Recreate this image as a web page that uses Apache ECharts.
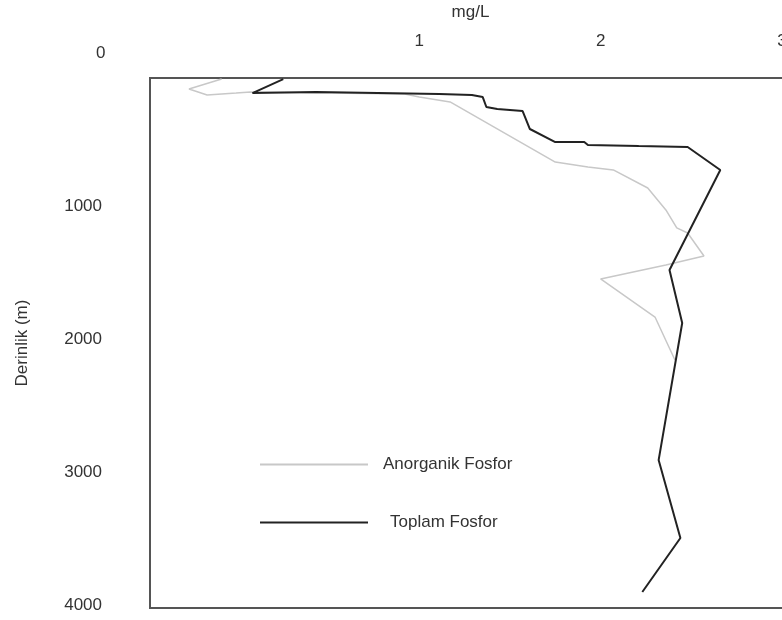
<!DOCTYPE html>
<html>
<head>
<meta charset="utf-8">
<script src="https://cdn.jsdelivr.net/npm/echarts@6/dist/echarts.min.js"></script>
<style>html,body{margin:0;padding:0;background:#fff;}#c{width:782px;height:620px;}</style>
</head>
<body>
<div id="c"></div>
<script>
// Series data: [value mg/L, depth m]
const anorganikFosfor = [
  [-0.09, 48], [-0.27, 123], [-0.17, 168], [-0.01, 153], [0.07, 145], [0.92, 160],
  [1.00, 183], [1.17, 220], [1.75, 671], [1.93, 708], [2.07, 730], [2.26, 866],
  [2.36, 1031], [2.42, 1166], [2.48, 1204], [2.57, 1377], [2.36, 1444],
  [2.00, 1549], [2.30, 1835], [2.41, 2158]
];
const toplamFosfor = [
  [0.25, 48], [0.08, 153], [0.43, 145], [0.44, 160], [1.11, 160], [1.29, 168],
  [1.35, 183], [1.37, 258], [1.43, 273], [1.57, 288], [1.61, 423], [1.75, 521],
  [1.91, 521], [1.93, 543], [2.21, 551], [2.48, 558], [2.66, 731], [2.38, 1482],
  [2.45, 1880], [2.32, 2909], [2.44, 3494], [2.23, 3900]
];
const xTickLabels = [1, 2, 3];
const yTickLabels = [1000, 2000, 3000, 4000];
const seriesNames = ['Anorganik Fosfor', 'Toplam Fosfor'];

const font = '"Liberation Sans", Arial, sans-serif';
const fs = 17;
const chart = echarts.init(document.getElementById('c'));
chart.setOption({
  animation: false,
  backgroundColor: '#fff',
  textStyle: { fontFamily: font },
  grid: { left: 150, top: 78, width: 641, height: 530, show: true, borderColor: '#555', borderWidth: 2,
          backgroundColor: 'transparent', containLabel: false, outerBoundsMode: 'none' },
  xAxis: {
    type: 'value', position: 'top', min: -0.485, max: 3.05,
    name: 'mg/L', nameLocation: 'middle', nameGap: 57,
    nameTextStyle: { color: '#333', fontSize: fs, fontFamily: font },
    axisLine: { show: false }, axisTick: { show: false }, splitLine: { show: false },
    axisLabel: { customValues: xTickLabels, margin: 28, color: '#333', fontSize: fs, fontFamily: font }
  },
  yAxis: {
    type: 'value', inverse: true, min: 40, max: 4020,
    name: 'Derinlik (m)', nameLocation: 'middle', nameGap: 119,
    nameTextStyle: { color: '#333', fontSize: fs, fontFamily: font },
    axisLine: { show: false }, axisTick: { show: false }, splitLine: { show: false },
    axisLabel: { customValues: yTickLabels, margin: 48, color: '#333', fontSize: fs, fontFamily: font,
                 formatter: function (v) { return String(v); } }
  },
  legend: {
    orient: 'vertical', left: 255, top: 451, icon: 'rect', itemWidth: 108, itemHeight: 2, itemGap: 41,
    textStyle: { color: '#333', fontSize: fs, fontFamily: font, padding: [0, 0, 0, 10] },
    data: [
      { name: seriesNames[0] },
      { name: seriesNames[1], textStyle: { padding: [0, 0, 0, 17] } }
    ]
  },
  graphic: [
    { type: 'text', left: 96, top: 45, style: { text: '0', fill: '#333', font: fs + 'px ' + font } }
  ],
  series: [
    { name: seriesNames[0], type: 'line', data: anorganikFosfor, symbol: 'none',
      lineStyle: { color: '#c8c8c8', width: 1.5 }, itemStyle: { color: '#c8c8c8' } },
    { name: seriesNames[1], type: 'line', data: toplamFosfor, symbol: 'none',
      lineStyle: { color: '#222', width: 2 }, itemStyle: { color: '#222' } }
  ]
});
</script>
</body>
</html>
